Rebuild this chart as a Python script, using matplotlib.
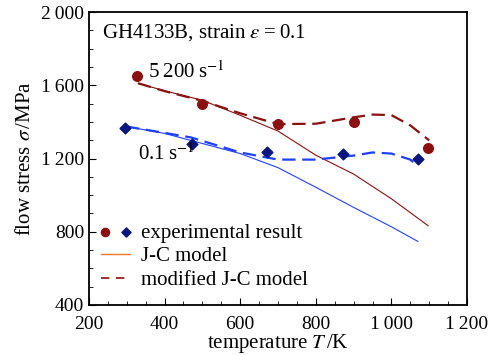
import matplotlib
matplotlib.use("Agg")
import matplotlib.pyplot as plt
import numpy as np
from matplotlib.legend_handler import HandlerTuple
from matplotlib.ticker import MultipleLocator, FuncFormatter

plt.rcParams['font.family'] = ['Liberation Serif', 'DejaVu Serif']
plt.rcParams['mathtext.fontset'] = 'stix'

# experimental points
T_exp_hi = [328, 500, 700, 900, 1097]
s_exp_hi = [1649, 1496, 1386, 1397, 1255]
T_exp_lo = [295, 472, 671, 872, 1070]
s_exp_lo = [1364, 1277, 1233, 1227, 1200]

# J-C model
T_jc_hi = [330, 400, 500, 600, 700, 800, 900, 1000, 1097]
s_jc_hi = [1611, 1570, 1518, 1436, 1350, 1218, 1115, 980, 833]
T_jc_lo = [298, 400, 500, 600, 700, 800, 900, 1000, 1070]
s_jc_lo = [1375, 1337, 1282, 1227, 1150, 1043, 933, 827, 747]

# modified J-C model
T_mjc_hi = [330, 400, 500, 600, 700, 800, 900, 950, 1000, 1050, 1100]
s_mjc_hi = [1611, 1568, 1515, 1447, 1388, 1390, 1425, 1440, 1437, 1381, 1299]
T_mjc_lo = [298, 400, 470, 600, 700, 800, 900, 950, 1000, 1050, 1070]
s_mjc_lo = [1375, 1340, 1315, 1233, 1194, 1194, 1216, 1233, 1227, 1194, 1158]

red = '#8b1010'
blue = '#2040ff'
navy = '#0a1580'

fig = plt.figure(figsize=(5, 3.55), dpi=100)
ax = fig.add_axes([0.178, 0.141, 0.756, 0.825])

ax.plot(T_jc_hi, s_jc_hi, color=red, lw=0.8)
ax.plot(T_jc_lo, s_jc_lo, color=blue, lw=0.8)
ax.plot(T_mjc_hi, s_mjc_hi, color=red, lw=1.6, dashes=(6, 3))
ax.plot(T_mjc_lo, s_mjc_lo, color=blue, lw=1.6, dashes=(6, 3))
c = ax.scatter(T_exp_hi, s_exp_hi, s=48, color=red, marker='o', zorder=3)
d = ax.scatter(T_exp_lo, s_exp_lo, s=30, color=navy, marker='D', zorder=3)

ax.set_xlim(200, 1200)
ax.set_ylim(400, 2000)
ax.xaxis.set_major_locator(MultipleLocator(200))
ax.xaxis.set_minor_locator(MultipleLocator(50))
ax.yaxis.set_major_locator(MultipleLocator(400))
ax.yaxis.set_minor_locator(MultipleLocator(100))

def fmt(v, pos):
    v = int(round(v))
    if v >= 1000:
        return f"{v // 1000}\u2009{v % 1000:03d}"
    return str(v)

ax.xaxis.set_major_formatter(FuncFormatter(fmt))
ax.yaxis.set_major_formatter(FuncFormatter(fmt))
ax.tick_params(which='both', direction='in', top=False, right=False, labelsize=14)
ax.tick_params(axis='x', which='major', pad=8)
ax.tick_params(which='major', length=5)
ax.tick_params(which='minor', length=3)
for sp in ax.spines.values():
    sp.set_linewidth(1.3)

ax.set_xlabel('temperature $T\\,$/K', fontsize=15, labelpad=-1)
ax.set_ylabel('flow stress $\\sigma\\,$/MPa', fontsize=15, labelpad=4)

ax.text(0.035, 0.93, 'GH4133B, strain $\\varepsilon$\u2009=\u20090.1', transform=ax.transAxes,
        fontsize=15, va='center')
ax.text(355, 1670, '5\u2009200\u2009s$^{-1}$', fontsize=15, va='center')
ax.text(330, 1225, '0.1\u2009s$^{-1}$', fontsize=15, va='center')

l1, = ax.plot([], [], color='#f07828', lw=1.0)
l2, = ax.plot([], [], color=red, lw=1.2, dashes=(5, 4))
ax.legend([(c, d), l1, l2], ['experimental result', 'J-C model', 'modified J-C model'],
          handler_map={tuple: HandlerTuple(ndivide=None, pad=0.6)},
          loc='lower left', frameon=False, fontsize=15, handlelength=1.4,
          handletextpad=0.5, labelspacing=0.2, borderaxespad=0.1,
          markerscale=0.85, bbox_to_anchor=(0.005, 0.015))

fig.savefig('out.png', dpi=100)
